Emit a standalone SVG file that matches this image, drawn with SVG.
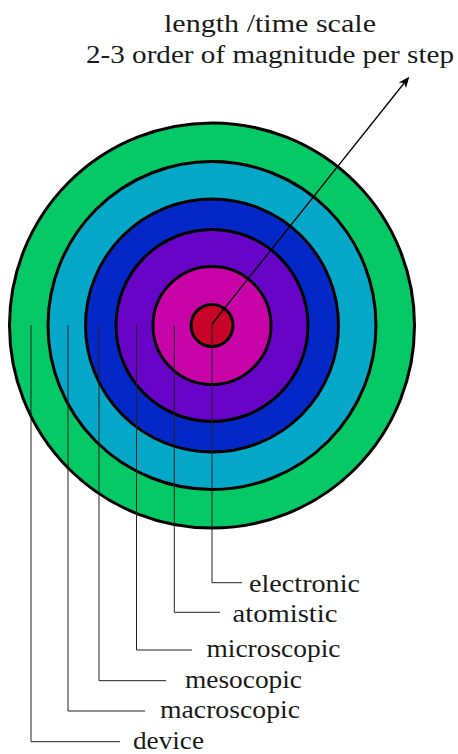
<svg xmlns="http://www.w3.org/2000/svg" width="458" height="754" viewBox="0 0 458 754">
<style>
.ring{stroke:#000;stroke-width:3}
.lbl{font-family:"Liberation Serif","Times New Roman",serif;font-size:26px;fill:#1a1a1a}
.lead{fill:none;stroke:#222;stroke-width:1}
.arrow{fill:none;stroke:#000;stroke-width:1.3}
</style>
<defs>
<marker id="ah" viewBox="-10 -6 14 12" refX="0" refY="0" markerWidth="14" markerHeight="12" markerUnits="userSpaceOnUse" orient="auto">
<path d="M3,0 L-8,-4.6 L-5.2,0 L-8,4.6 Z" fill="#000"/>
</marker>
</defs>
<rect width="458" height="754" fill="#fff"/>
<g id="device"><circle class="ring" cx="212" cy="325.5" r="202.5" fill="#05c866"/><text class="lbl" x="133" y="748.5" textLength="71" lengthAdjust="spacingAndGlyphs">device</text></g>
<g id="macroscopic"><circle class="ring" cx="212" cy="325.5" r="164" fill="#05a8c8"/><text class="lbl" x="160" y="718" textLength="140" lengthAdjust="spacingAndGlyphs">macroscopic</text></g>
<g id="mesocopic"><circle class="ring" cx="212" cy="325.5" r="126.5" fill="#0428c8"/><text class="lbl" x="185" y="687.5" textLength="117" lengthAdjust="spacingAndGlyphs">mesocopic</text></g>
<g id="microscopic"><circle class="ring" cx="212" cy="325.5" r="96" fill="#6804c8"/><text class="lbl" x="206.5" y="657" textLength="134" lengthAdjust="spacingAndGlyphs">microscopic</text></g>
<g id="atomistic"><circle class="ring" cx="212" cy="325.5" r="59" fill="#c804a8"/><text class="lbl" x="232.5" y="622" textLength="105" lengthAdjust="spacingAndGlyphs">atomistic</text></g>
<g id="electronic"><circle class="ring" cx="212" cy="325.5" r="21" fill="#c80428"/><text class="lbl" x="249" y="592" textLength="111" lengthAdjust="spacingAndGlyphs">electronic</text></g>
<g id="scale-title">
<text class="lbl" x="270" y="32" text-anchor="middle" textLength="212" lengthAdjust="spacingAndGlyphs">length /time scale</text>
<text class="lbl" x="270" y="63" text-anchor="middle" textLength="368" lengthAdjust="spacingAndGlyphs">2-3 order of magnitude per step</text>
</g>
<g id="connectors">
<path class="lead" d="M212,324 V582.7 H242"/>
<path class="lead" d="M174.3,325 V612.3 H220"/>
<path class="lead" d="M136.5,325 V650 H192"/>
<path class="lead" d="M99,325 V680.7 H166"/>
<path class="lead" d="M68,325 V711 H145"/>
<path class="lead" d="M31,325 V741.7 H120"/>
<line class="arrow" x1="212" y1="324" x2="407.4" y2="79" marker-end="url(#ah)"/>
</g>
</svg>
